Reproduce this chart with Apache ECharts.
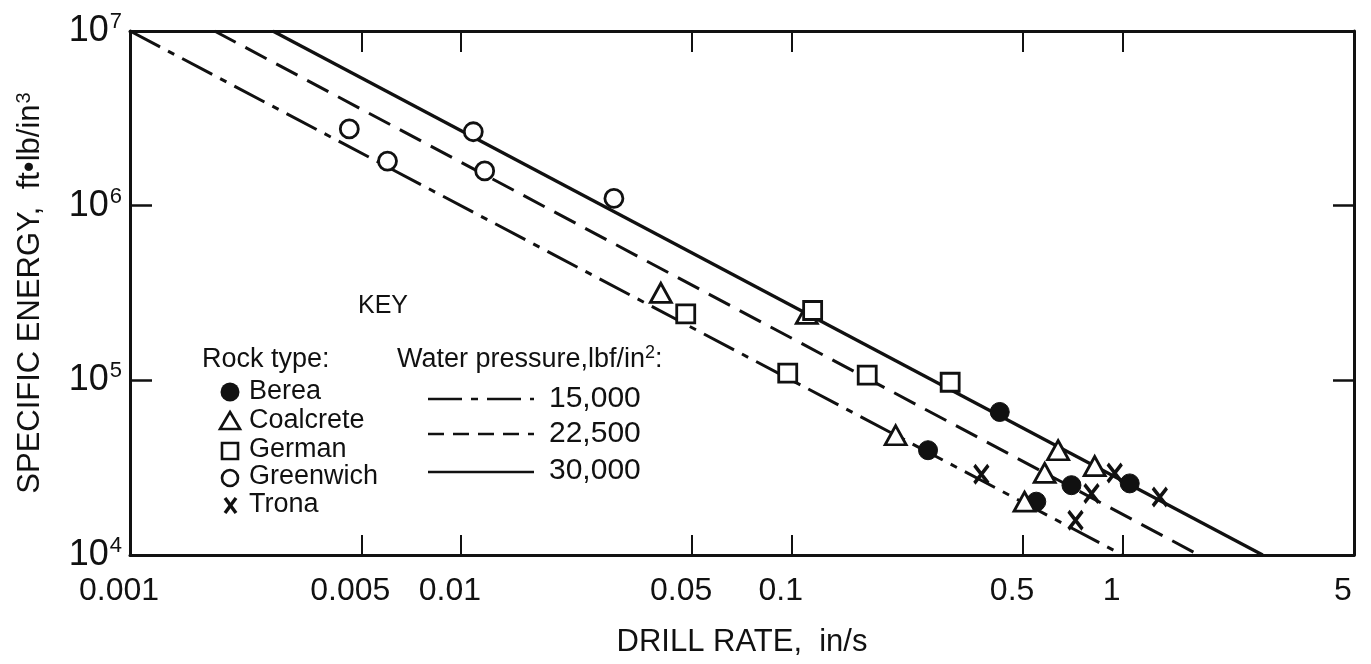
<!DOCTYPE html>
<html><head><meta charset="utf-8">
<script src="https://cdn.jsdelivr.net/npm/echarts@6/dist/echarts.min.js"></script>
<style>html,body{margin:0;padding:0;background:#fff}#c{width:1371px;height:664px}</style>
</head><body><div id="c"></div>
<script>
// ---- tick labels ----
const xLabelValues = [0.001, 0.005, 0.01, 0.05, 0.1, 0.5, 1, 5];
const xLabelTexts  = ['0.001', '0.005', '0.01', '0.05', '0.1', '0.5', '1', '5'];
const xTickValues  = [0.005, 0.01, 0.05, 0.1, 0.5, 1];
const yLabelValues = [1e4, 1e5, 1e6, 1e7];
const yLabelExps   = ['4', '5', '6', '7'];
const yTickValues  = [1e5, 1e6];

// ---- fitted lines (water pressure, lbf/in^2) ----
const pressureNames = ['15,000', '22,500', '30,000'];
const line15000 = [[0.001, 1e7], [1.0, 1e4]];
const line22500 = [[0.0018, 1e7], [1.7, 1e4]];
const line30000 = [[0.0027, 1e7], [2.65, 1e4]];

// ---- measured points: [drill rate in/s, specific energy ft·lb/in^3] ----
const berea = [[0.425, 6.59e4], [0.258, 3.98e4], [0.700, 2.51e4], [1.05, 2.57e4], [0.548, 2.02e4]];
const coalcrete = [[0.0402, 3.17e5], [0.111, 2.40e5], [0.206, 4.85e4], [0.638, 3.98e4], [0.823, 3.23e4], [0.581, 2.95e4], [0.505, 2.02e4]];
const german = [[0.1156, 2.51e5], [0.0478, 2.40e5], [0.0972, 1.10e5], [0.169, 1.07e5], [0.301, 9.75e4]];
const greenwich = [[0.0046, 2.75e6], [0.0060, 1.80e6], [0.0109, 2.65e6], [0.0118, 1.58e6], [0.029, 1.10e6]];
const trona = [[0.374, 2.90e4], [0.946, 2.95e4], [0.805, 2.25e4], [1.295, 2.15e4], [0.720, 1.58e4]];
const rockNames = ['Berea', 'Coalcrete', 'German', 'Greenwich', 'Trona'];

const FONT = '"Liberation Sans", "DejaVu Sans", sans-serif';
const INK = '#111';
const XPATH = 'path://M0,0L10,13M10,0L0,13';

function xLabel(v) {
  let best = 0, bd = Infinity;
  xLabelValues.forEach((x, i) => { const d = Math.abs(Math.log10(x) - Math.log10(v)); if (d < bd) { bd = d; best = i; } });
  return xLabelTexts[best];
}
function yLabel(v) {
  const e = Math.round(Math.log10(v));
  const i = yLabelValues.findIndex(y => Math.round(Math.log10(y)) === e);
  return '{b|10}{s|' + yLabelExps[i] + '}';
}

const axisLine = { show: true, onZero: false, lineStyle: { color: INK, width: 3 } };

const option = {
  backgroundColor: '#fff',
  animation: false,
  grid: { left: 130, right: 17, top: 31, bottom: 109 },
  xAxis: [{
    type: 'log', logBase: 10, min: 0.001, max: 5,
    position: 'bottom',
    axisLine: axisLine,
    splitLine: { show: false },
    minorTick: { show: false },
    axisTick: { show: true, inside: true, length: 20, customValues: xTickValues, lineStyle: { color: INK, width: 2 } },
    axisLabel: { customValues: xLabelValues, formatter: xLabel, fontFamily: FONT, fontSize: 32, color: INK, margin: 20, padding: [0, 22, 0, 0] },
    name: 'DRILL RATE,  in/s', nameLocation: 'middle', nameGap: 72,
    nameTextStyle: { fontFamily: FONT, fontSize: 31, color: INK }
  }, {
    type: 'log', logBase: 10, min: 0.001, max: 5,
    position: 'top',
    axisLine: axisLine,
    splitLine: { show: false },
    axisTick: { show: true, inside: true, length: 21, customValues: xTickValues, lineStyle: { color: INK, width: 2 } },
    axisLabel: { show: false }
  }],
  yAxis: [{
    type: 'log', logBase: 10, min: 1e4, max: 1e7,
    position: 'left',
    axisLine: axisLine,
    splitLine: { show: false },
    axisTick: { show: true, inside: true, length: 22, customValues: yTickValues, lineStyle: { color: INK, width: 2.5 } },
    axisLabel: {
      customValues: yLabelValues, formatter: yLabel, margin: 8, color: INK,
      rich: {
        b: { fontFamily: FONT, fontSize: 36, color: INK, lineHeight: 40 },
        s: { fontFamily: FONT, fontSize: 22, color: INK, verticalAlign: 'top', lineHeight: 40, padding: [0, 0, 14, 1] }
      }
    },
    name: 'SPECIFIC ENERGY,  ft\u2022lb/in{s|3}', nameLocation: 'middle', nameGap: 84, nameRotate: 90,
    nameTextStyle: {
      fontFamily: FONT, fontSize: 31, color: INK,
      rich: { s: { fontFamily: FONT, fontSize: 20, color: INK, verticalAlign: 'top', padding: [0, 0, 12, 1] } }
    }
  }, {
    type: 'log', logBase: 10, min: 1e4, max: 1e7,
    position: 'right',
    axisLine: axisLine,
    splitLine: { show: false },
    axisTick: { show: true, inside: true, length: 21, customValues: yTickValues, lineStyle: { color: INK, width: 2.5 } },
    axisLabel: { show: false }
  }],
  series: [
    { name: pressureNames[0], type: 'line', data: line15000, symbol: 'none', z: 1,
      lineStyle: { color: INK, width: 3, type: [34, 9, 7, 9] } },
    { name: pressureNames[1], type: 'line', data: line22500, symbol: 'none', z: 1,
      lineStyle: { color: INK, width: 3, type: [24, 11] } },
    { name: pressureNames[2], type: 'line', data: line30000, symbol: 'none', z: 1,
      lineStyle: { color: INK, width: 3.2, type: 'solid' } },
    { name: rockNames[0], type: 'scatter', data: berea, symbol: 'circle', symbolSize: 19, z: 3,
      itemStyle: { color: INK, borderColor: INK, borderWidth: 1, opacity: 1 } },
    { name: rockNames[1], type: 'scatter', data: coalcrete, symbol: 'triangle', symbolSize: [21, 19], z: 3,
      itemStyle: { color: '#fff', borderColor: INK, borderWidth: 2.8, opacity: 1 } },
    { name: rockNames[2], type: 'scatter', data: german, symbol: 'rect', symbolSize: 18, z: 3,
      itemStyle: { color: '#fff', borderColor: INK, borderWidth: 2.8, opacity: 1 } },
    { name: rockNames[3], type: 'scatter', data: greenwich, symbol: 'circle', symbolSize: 18, z: 3,
      itemStyle: { color: '#fff', borderColor: INK, borderWidth: 2.8, opacity: 1 } },
    { name: rockNames[4], type: 'scatter', data: trona, symbol: XPATH, symbolSize: [14, 18], z: 3,
      itemStyle: { color: 'none', borderColor: INK, borderWidth: 3.6, opacity: 1 } }
  ],
  graphic: [
    { type: 'text', left: 358, top: 294, style: { text: 'KEY', font: '25px ' + FONT, fill: INK } },
    { type: 'text', left: 202, top: 346, style: { text: 'Rock type:', font: '27px ' + FONT, fill: INK } },
    { type: 'text', left: 397, top: 344, style: {
        text: '{a|Water pressure,lbf/in}{s|2}{a|:}', fill: INK,
        rich: { a: { font: '27px ' + FONT, fill: INK, lineHeight: 32 }, s: { font: '18px ' + FONT, fill: INK, verticalAlign: 'top', lineHeight: 32, padding: [0, 0, 14, 0] } } } },
    // rock legend markers
    { type: 'circle', shape: { cx: 230, cy: 392, r: 9.5 }, style: { fill: INK } },
    { type: 'polygon', shape: { points: [[230, 412], [240, 429], [220, 429]] }, style: { fill: '#fff', stroke: INK, lineWidth: 2.6 } },
    { type: 'rect', shape: { x: 222, y: 443, width: 16, height: 16 }, style: { fill: '#fff', stroke: INK, lineWidth: 2.6 } },
    { type: 'circle', shape: { cx: 230, cy: 478, r: 8 }, style: { fill: '#fff', stroke: INK, lineWidth: 2.6 } },
    { type: 'polyline', shape: { points: [[225, 498], [236, 513]] }, style: { stroke: INK, lineWidth: 3.4 } },
    { type: 'polyline', shape: { points: [[236, 498], [225, 513]] }, style: { stroke: INK, lineWidth: 3.4 } },
    // rock legend texts
    { type: 'text', left: 249, top: 378, style: { text: rockNames[0], font: '27px ' + FONT, fill: INK } },
    { type: 'text', left: 249, top: 407, style: { text: rockNames[1], font: '27px ' + FONT, fill: INK } },
    { type: 'text', left: 249, top: 436, style: { text: rockNames[2], font: '27px ' + FONT, fill: INK } },
    { type: 'text', left: 249, top: 463, style: { text: rockNames[3], font: '27px ' + FONT, fill: INK } },
    { type: 'text', left: 249, top: 491, style: { text: rockNames[4], font: '27px ' + FONT, fill: INK } },
    // pressure legend lines
    { type: 'line', shape: { x1: 428, y1: 399, x2: 534, y2: 399 }, style: { stroke: INK, lineWidth: 2.5, lineDash: [34, 9, 7, 9] } },
    { type: 'line', shape: { x1: 428, y1: 434, x2: 534, y2: 434 }, style: { stroke: INK, lineWidth: 2.5, lineDash: [16, 9] } },
    { type: 'line', shape: { x1: 428, y1: 472, x2: 534, y2: 472 }, style: { stroke: INK, lineWidth: 2.5 } },
    { type: 'text', left: 549, top: 384, style: { text: pressureNames[0], font: '30px ' + FONT, fill: INK } },
    { type: 'text', left: 549, top: 419, style: { text: pressureNames[1], font: '30px ' + FONT, fill: INK } },
    { type: 'text', left: 549, top: 456, style: { text: pressureNames[2], font: '30px ' + FONT, fill: INK } }
  ]
};

const chart = echarts.init(document.getElementById('c'), null, { renderer: 'canvas' });
chart.setOption(option);
</script>
</body></html>
